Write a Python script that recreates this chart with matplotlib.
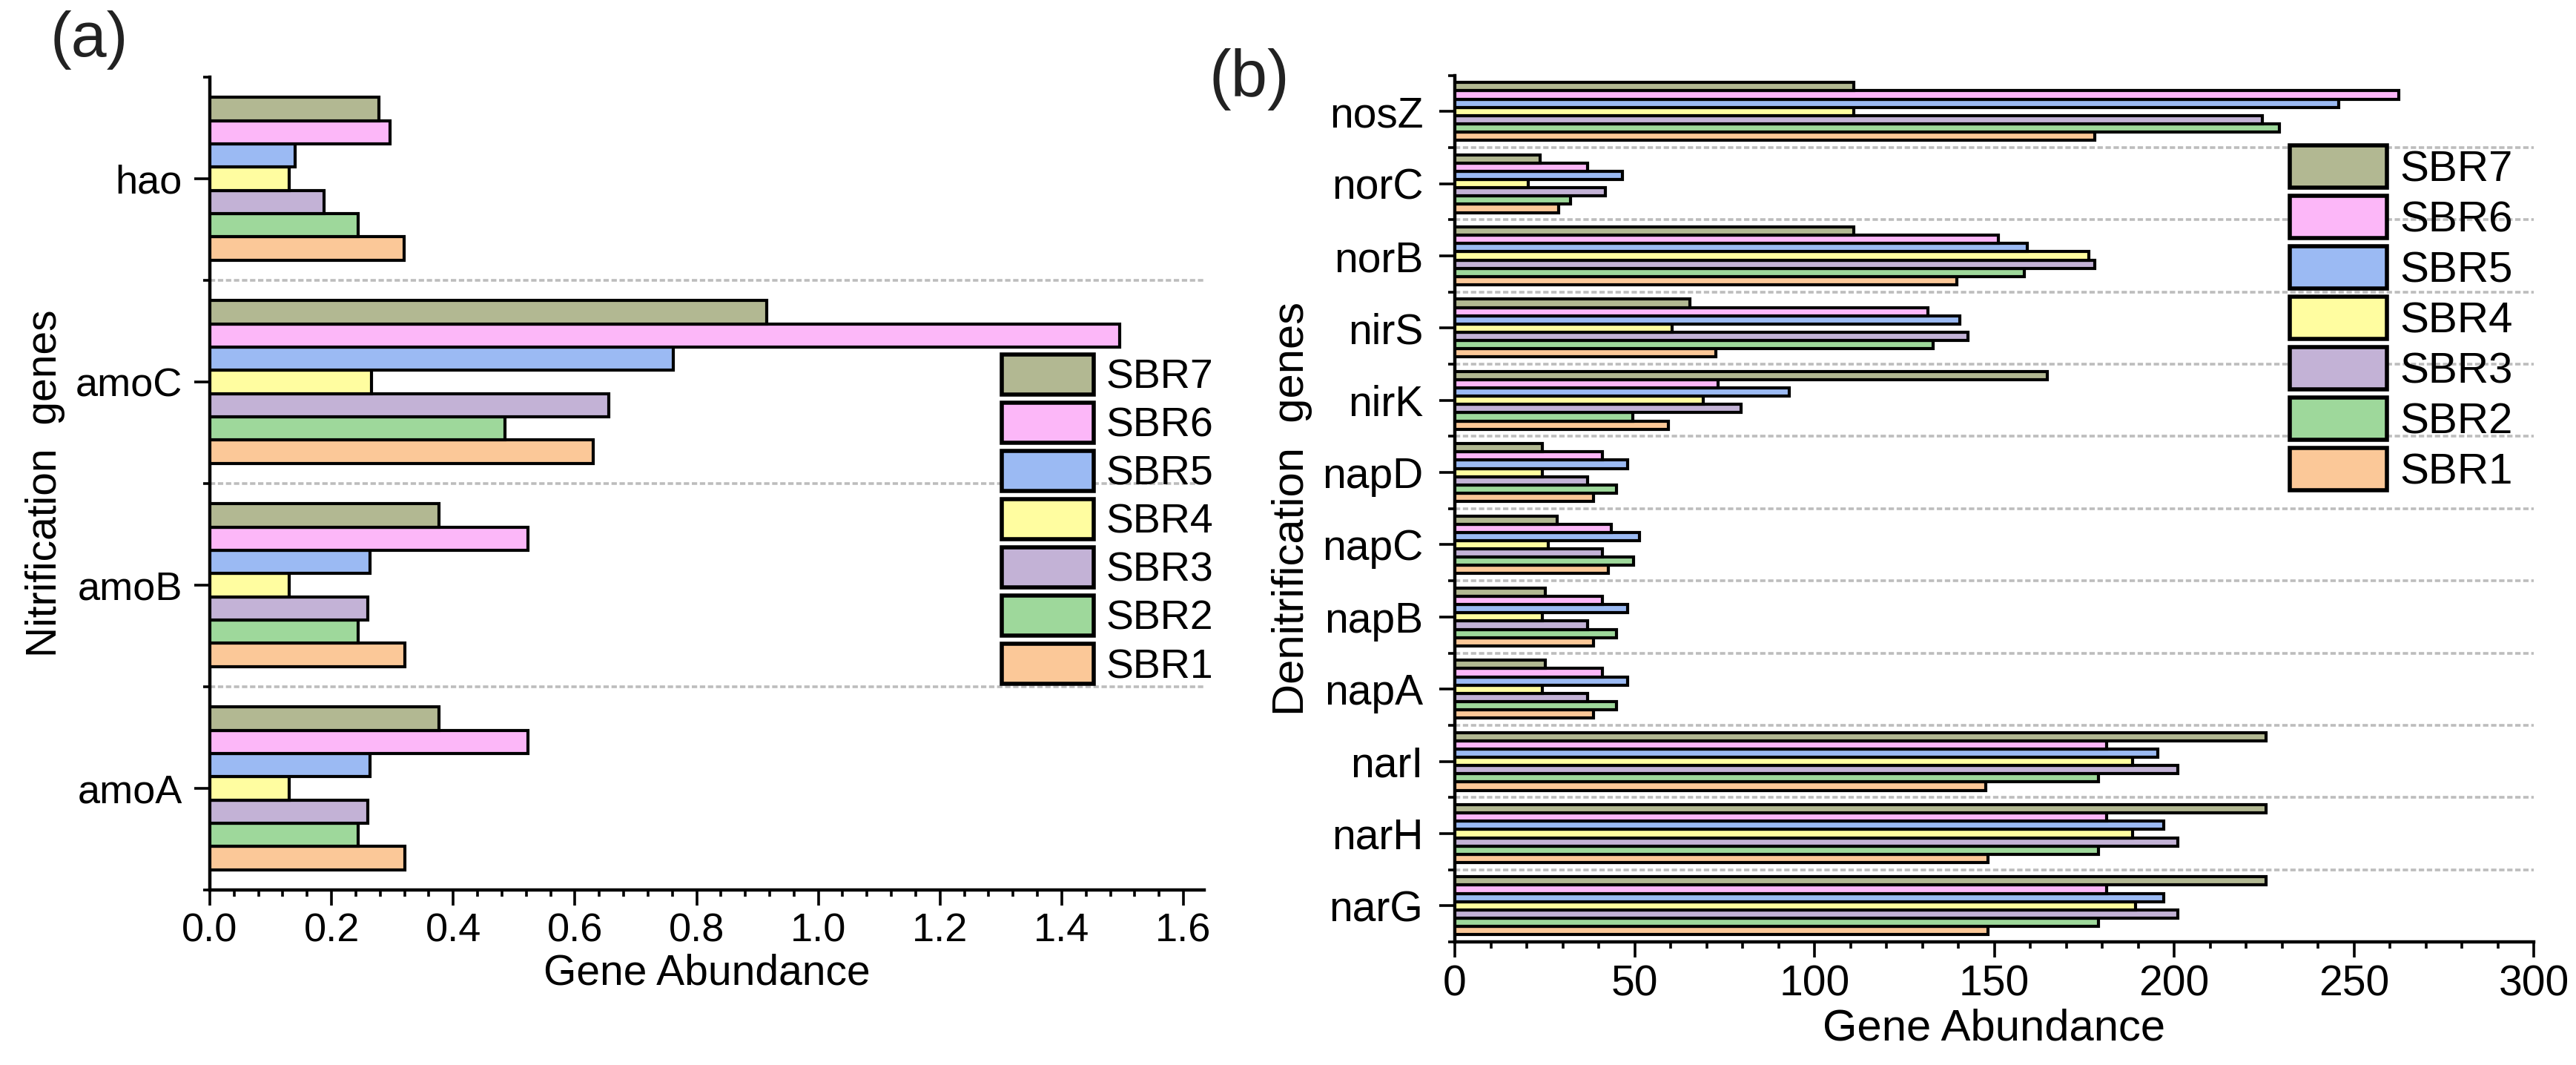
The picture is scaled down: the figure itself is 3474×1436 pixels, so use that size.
import matplotlib
matplotlib.use('Agg')
import matplotlib.pyplot as plt
import numpy as np
from matplotlib.ticker import FixedLocator, MultipleLocator, FormatStrFormatter

plt.rcParams['font.family'] = ['Liberation Sans', 'DejaVu Sans']

series = ['SBR1', 'SBR2', 'SBR3', 'SBR4', 'SBR5', 'SBR6', 'SBR7']
colors = ['#FBC898', '#9ED89B', '#C3B2D6', '#FFFDA0', '#9BBAF3', '#FCB7F8', '#B2B892']

# Panel (a): nitrification genes
nit_genes = ['amoA', 'amoB', 'amoC', 'hao']
nit_SBR1 = [0.320, 0.320, 0.630, 0.319]
nit_SBR2 = [0.244, 0.244, 0.485, 0.244]
nit_SBR3 = [0.259, 0.259, 0.655, 0.188]
nit_SBR4 = [0.131, 0.131, 0.266, 0.130]
nit_SBR5 = [0.263, 0.263, 0.762, 0.140]
nit_SBR6 = [0.523, 0.523, 1.495, 0.296]
nit_SBR7 = [0.376, 0.376, 0.915, 0.278]

# Panel (b): denitrification genes
den_genes = ['narG', 'narH', 'narI', 'napA', 'napB', 'napC', 'napD',
             'nirK', 'nirS', 'norB', 'norC', 'nosZ']
den_SBR1 = [148.2, 148.2, 147.6, 38.6, 38.6, 42.6, 38.6, 59.3, 72.5, 139.5, 28.9, 178.0]
den_SBR2 = [179.0, 179.0, 179.0, 44.9, 44.9, 49.7, 44.9, 49.5, 133.0, 158.4, 32.2, 229.2]
den_SBR3 = [201.0, 201.0, 201.0, 37.0, 37.0, 41.0, 37.0, 79.5, 142.6, 178.0, 41.8, 224.6]
den_SBR4 = [189.2, 188.4, 188.4, 24.3, 24.3, 25.9, 24.3, 69.1, 60.4, 176.3, 20.4, 111.0]
den_SBR5 = [197.1, 197.1, 195.5, 48.1, 48.1, 51.4, 48.1, 92.9, 140.4, 159.2, 46.5, 245.8]
den_SBR6 = [181.2, 181.2, 181.2, 41.0, 41.0, 43.4, 41.0, 73.2, 131.5, 151.1, 37.0, 262.5]
den_SBR7 = [225.5, 225.5, 225.5, 25.2, 25.2, 28.4, 24.3, 164.8, 65.3, 111.0, 23.7, 111.0]

nit_data = [nit_SBR1, nit_SBR2, nit_SBR3, nit_SBR4, nit_SBR5, nit_SBR6, nit_SBR7]
den_data = [den_SBR1, den_SBR2, den_SBR3, den_SBR4, den_SBR5, den_SBR6, den_SBR7]

fig = plt.figure(figsize=(17.37, 7.18), dpi=200)
ax1 = fig.add_axes([0.08146, 0.16435, 0.3860, 0.7632])
ax2 = fig.add_axes([0.56477, 0.11560, 0.41883, 0.81365])


def draw_panel(ax, genes, data, xlim, major, minor, fmt, tick_fs, lab_fs,
               ylabel, ypad):
    n = len(series)
    group = 0.8
    h = group / n
    y = np.arange(len(genes))
    for i, (vals, c, name) in enumerate(zip(data, colors, series)):
        ax.barh(y - group / 2 + h * (i + 0.5), vals, height=h, color=c,
                edgecolor='black', linewidth=1.5, label=name, zorder=3)
    for b in np.arange(0.5, len(genes) - 0.5, 1.0):
        ax.axhline(b, color='#bdbdbd', linestyle=(0, (2.0, 1.0)),
                   linewidth=1.3, zorder=1)
    ax.set_ylim(-0.5, len(genes) - 0.5)
    ax.set_xlim(*xlim)
    ax.set_yticks(y)
    ax.set_yticklabels(genes, fontsize=tick_fs)
    ax.yaxis.set_minor_locator(FixedLocator(np.arange(-0.5, len(genes), 1.0)))
    ax.xaxis.set_major_locator(MultipleLocator(major))
    ax.xaxis.set_minor_locator(MultipleLocator(minor))
    ax.xaxis.set_major_formatter(FormatStrFormatter(fmt))
    for lab in ax.get_xticklabels():
        lab.set_fontsize(tick_fs)
    ax.tick_params(axis='both', which='major', length=7.4, width=1.3,
                   direction='out')
    ax.tick_params(axis='both', which='minor', length=3.2, width=1.3,
                   direction='out')
    ax.tick_params(axis='y', which='major', pad=ypad)
    ax.tick_params(axis='x', which='major', pad=3.5, labelsize=tick_fs)
    for s in ['top', 'right']:
        ax.spines[s].set_visible(False)
    for s in ['left', 'bottom']:
        ax.spines[s].set_linewidth(1.6)
    ax.set_xlabel('Gene Abundance', fontsize=lab_fs, labelpad=2)
    ax.set_ylabel(ylabel, fontsize=lab_fs, ha='center', va='center')


draw_panel(ax1, nit_genes, nit_data, (0, 1.634), 0.2, 0.04, '%.1f', 19.5, 20.5,
           'Nitrification  genes', 6)
draw_panel(ax2, den_genes, den_data, (0, 300), 50, 10, '%d', 20.5, 21.5,
           'Denitrification  genes', 8)

ax1.yaxis.set_label_coords(-0.1653, 0.5)
ax2.yaxis.set_label_coords(-0.1512, 0.5)

h1, l1 = ax1.get_legend_handles_labels()
leg1 = ax1.legend(h1[::-1], l1[::-1], loc='upper left',
                  bbox_to_anchor=(0.3889, 0.6671), bbox_transform=fig.transFigure,
                  frameon=False, fontsize=20, handlelength=2.23, handleheight=1.115,
                  labelspacing=0.13, handletextpad=0.3, borderpad=0, borderaxespad=0)
h2, l2 = ax2.get_legend_handles_labels()
leg2 = ax2.legend(h2[::-1], l2[::-1], loc='upper left',
                  bbox_to_anchor=(0.8889, 0.8635), bbox_transform=fig.transFigure,
                  frameon=False, fontsize=21, handlelength=2.25, handleheight=1.13,
                  labelspacing=0.13, handletextpad=0.3, borderpad=0, borderaxespad=0)
for leg in (leg1, leg2):
    for p in leg.get_patches():
        p.set_linewidth(2.0)

fig.text(68 / 3474, 0.99, '(a)', fontsize=31, color='#222222', ha='left', va='top')
fig.text(1630 / 3474, 0.955, '(b)', fontsize=32, color='#222222', ha='left', va='top')

fig.savefig('out.png', dpi=200)
